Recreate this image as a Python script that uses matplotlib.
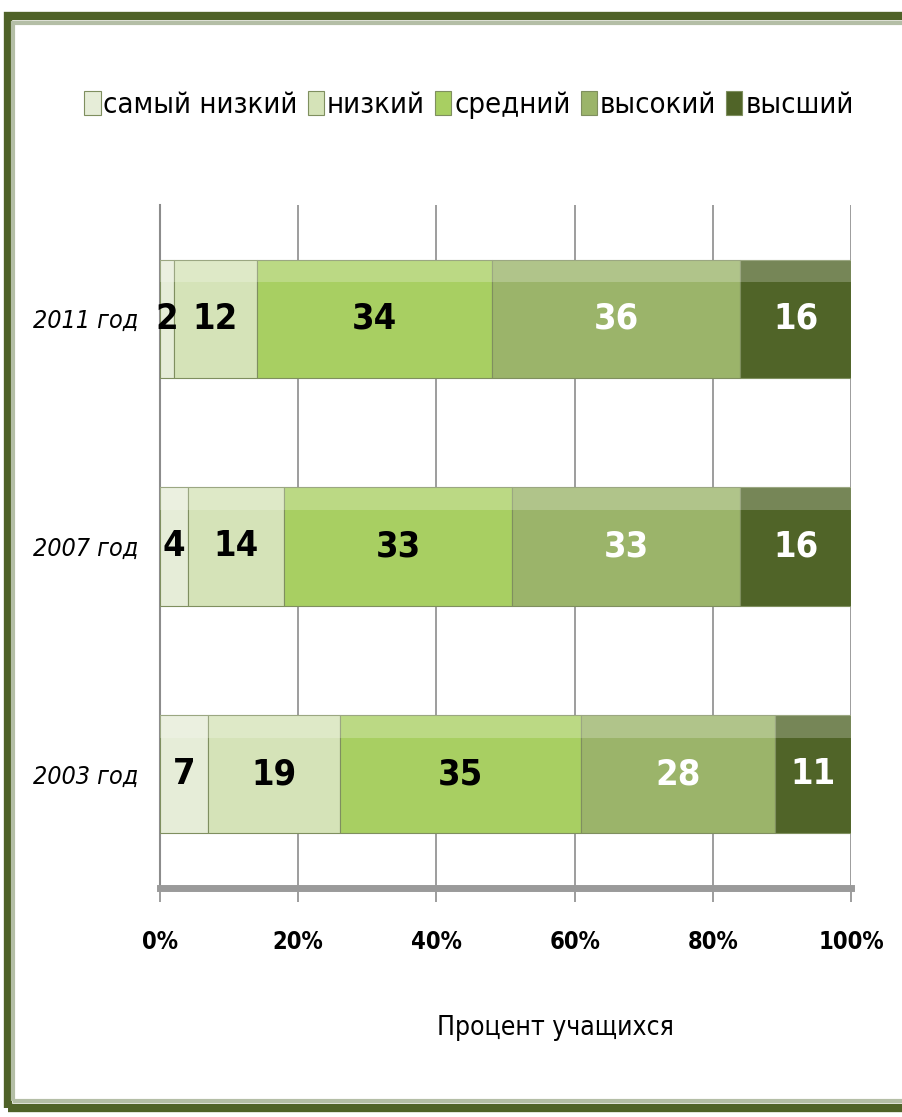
import matplotlib.pyplot as plt
from matplotlib.patches import Rectangle

plt.rcParams['font.family'] = ['DejaVu Sans']
plt.rcParams['font.stretch'] = 'condensed'

# годы снизу вверх
years = ['2003 год', '2007 год', '2011 год']
levels = ['самый низкий', 'низкий', 'средний', 'высокий', 'высший']
# проценты учащихся по уровням, для 2003, 2007, 2011
lowest = [7, 4, 2]
low = [19, 14, 12]
middle = [35, 33, 34]
high = [28, 33, 36]
highest = [11, 16, 16]
series = [lowest, low, middle, high, highest]

colors = ['#e6edd8', '#d5e3b8', '#a8cf62', '#9bb46a', '#506428']
text_colors = ['black', 'black', 'black', 'white', 'white']
ticks = [0, 20, 40, 60, 80, 100]

fig = plt.figure(figsize=(9.02, 11.17), dpi=100)
ax = fig.add_axes([0.1774, 0.205, 0.766, 0.6115])

# рамка вокруг рисунка (справа уходит за край)
fig.patches.append(Rectangle((0.009, 0.008), 1.05, 0.978, transform=fig.transFigure,
                             fill=False, edgecolor='#4f6228', linewidth=6))
fig.patches.append(Rectangle((0.0145, 0.0145), 1.05, 0.9645, transform=fig.transFigure,
                             fill=False, edgecolor='#b4bea6', linewidth=3))

y = list(range(len(years)))
h = 0.52
left = [0] * len(years)
for vals, name, c, tc in zip(series, levels, colors, text_colors):
    ax.barh(y, vals, left=left, height=h, color=c, edgecolor='#7f8f5f',
            linewidth=0.8, label=name, zorder=3)
    # светлая полоска сверху - эффект объёма
    ax.barh([i + h / 2 - 0.05 for i in y], vals, left=left, height=0.1,
            color='white', alpha=0.22, linewidth=0, zorder=3.5)
    for i, v in enumerate(vals):
        ax.text(left[i] + v / 2, i, str(v), ha='center', va='center', color=tc,
                fontsize=26, fontweight='bold', zorder=4)
    left = [a + b for a, b in zip(left, vals)]

ax.set_xlim(0, 100)
ax.set_ylim(-0.5, 2.5)
ax.set_xticks(ticks)
ax.set_xticklabels([f'{t}%' for t in ticks], fontsize=17, fontweight='bold')
ax.set_yticks(y)
ax.set_yticklabels(years, fontsize=18, fontstyle='italic')
ax.grid(axis='x', color='#8c8c8c', linewidth=1.2, zorder=0)
ax.tick_params(axis='x', length=10, width=1.2, color='#8c8c8c', pad=20)
ax.tick_params(axis='y', length=0, pad=16)
for s in ['top', 'right']:
    ax.spines[s].set_visible(False)
ax.spines['left'].set_color('#8c8c8c')
ax.spines['left'].set_linewidth(1.5)
ax.spines['bottom'].set_color('#9a9a9a')
ax.spines['bottom'].set_linewidth(5)
ax.set_xlabel('Процент учащихся', fontsize=19)
ax.xaxis.set_label_coords(0.573, -0.205)
ax.xaxis.label.set_va('center')

fig.legend(loc='center', bbox_to_anchor=(0.52, 0.906), ncol=5, frameon=False,
           fontsize=21, handlelength=0.55, handleheight=0.9, handletextpad=0.1,
           columnspacing=0.35)

fig.savefig('out.png', dpi=100)
